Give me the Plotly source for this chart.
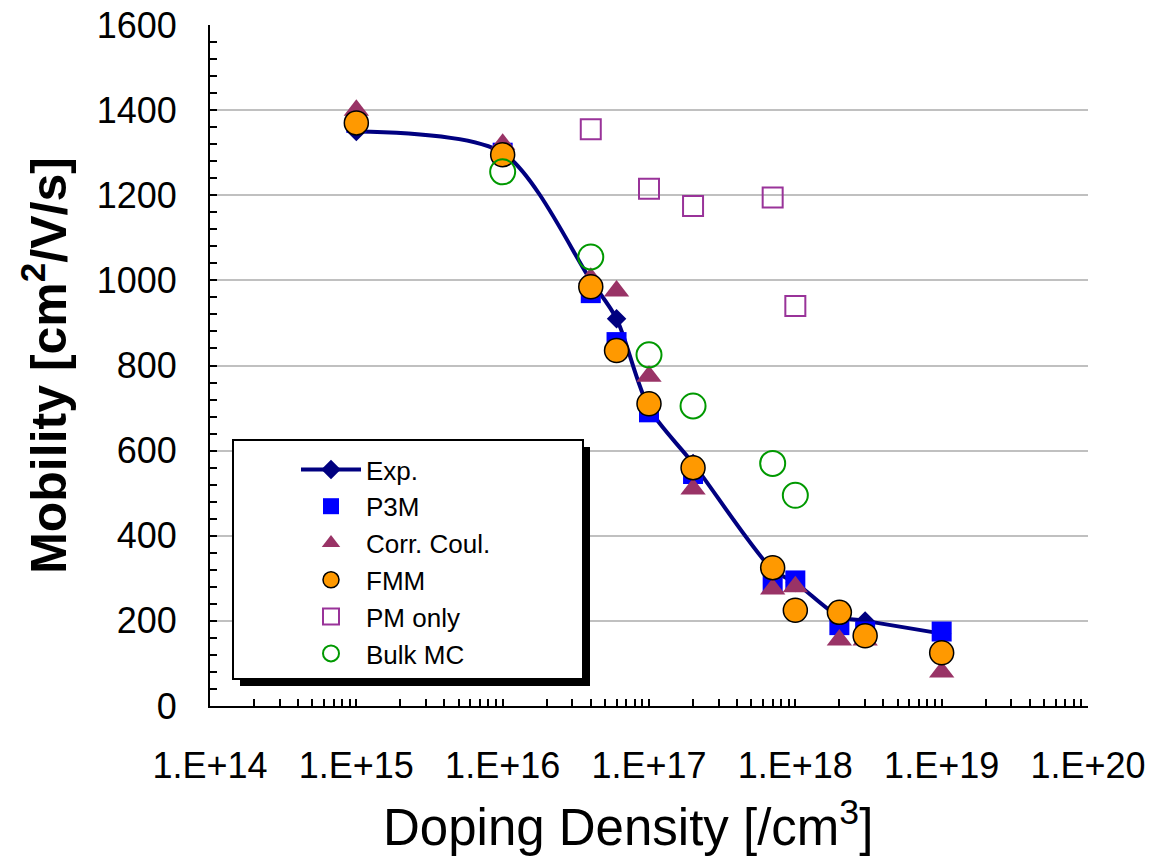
import plotly.graph_objects as go

# Data
exp_x = [1e15, 1e16, 4e16, 6e16, 1e17, 2e17, 7e17, 1e18, 2e18, 3e18, 1e19]
exp_y = [1350, 1300, 1000, 910, 700, 570, 320, 290, 210, 200, 170]

p3m_x = [1e15, 1e16, 4e16, 6e16, 1e17, 2e17, 7e17, 1e18, 2e18, 3e18, 1e19]
p3m_y = [1370, 1300, 970, 855, 690, 545, 290, 295, 190, 175, 175]

cc_x = [1e15, 1e16, 4e16, 6e16, 1e17, 2e17, 7e17, 1e18, 2e18, 3e18, 1e19]
cc_y = [1400, 1320, 1005, 975, 775, 510, 275, 280, 155, 155, 80]

fmm_x = [1e15, 1e16, 4e16, 6e16, 1e17, 2e17, 7e17, 1e18, 2e18, 3e18, 1e19]
fmm_y = [1370, 1295, 985, 835, 710, 560, 325, 225, 220, 165, 125]

pm_x = [4e16, 1e17, 2e17, 7e17, 1e18]
pm_y = [1355, 1215, 1175, 1195, 940]

bulk_x = [1e16, 4e16, 1e17, 2e17, 7e17, 1e18]
bulk_y = [1255, 1055, 825, 705, 570, 495]

xtick_vals = [1e14, 1e15, 1e16, 1e17, 1e18, 1e19, 1e20]
xtick_text = ["1.E+14", "1.E+15", "1.E+16", "1.E+17", "1.E+18", "1.E+19", "1.E+20"]
ytick_vals = [0, 200, 400, 600, 800, 1000, 1200, 1400, 1600]

x_title = "Doping Density [/cm<sup>3</sup>]"
y_title = "<b>Mobility [cm<sup>2</sup>/V/s]</b>"

FONT = "Liberation Sans, Arial, sans-serif"

fig = go.Figure()
fig.add_trace(go.Scatter(x=exp_x, y=exp_y, name="Exp.", mode="lines+markers",
                         line=dict(color="#000080", width=4, shape="spline", smoothing=0.8),
                         marker=dict(symbol="diamond", size=15, color="#000080")))
fig.add_trace(go.Scatter(x=p3m_x, y=p3m_y, name="P3M", mode="markers",
                         marker=dict(symbol="square", size=20, color="#0000FF")))
fig.add_trace(go.Scatter(x=cc_x, y=cc_y, name="Corr. Coul.", mode="markers",
                         marker=dict(symbol="triangle-up", size=22, color="#993366")))
fig.add_trace(go.Scatter(x=fmm_x, y=fmm_y, name="FMM", mode="markers",
                         marker=dict(symbol="circle", size=24, color="#FF9900",
                                     line=dict(color="black", width=1.5))))
fig.add_trace(go.Scatter(x=pm_x, y=pm_y, name="PM only", mode="markers",
                         marker=dict(symbol="square-open", size=20, color="#993399",
                                     line=dict(width=2))))
fig.add_trace(go.Scatter(x=bulk_x, y=bulk_y, name="Bulk MC", mode="markers",
                         marker=dict(symbol="circle-open", size=25, color="#009900",
                                     line=dict(width=2))))

def px2paper(px, py):
    return (px - 210) / 878, (706 - py) / 681

sx0, sy0 = px2paper(240, 686)
sx1, sy1 = px2paper(590, 447)
bx0, by0 = px2paper(233, 679)
bx1, by1 = px2paper(583, 440)

shapes = [
    dict(type="rect", xref="paper", yref="paper", x0=sx0, y0=sy0, x1=sx1, y1=sy1,
         fillcolor="black", line=dict(color="black", width=0), layer="above"),
    dict(type="rect", xref="paper", yref="paper", x0=bx0, y0=by0, x1=bx1, y1=by1,
         fillcolor="white", line=dict(color="black", width=2), layer="above"),
]

lx, ly = px2paper(296, 446)
tx, ty = px2paper(628, 824)

fig.update_layout(
    width=1159, height=863,
    margin=dict(l=210, r=71, t=25, b=157),
    paper_bgcolor="white", plot_bgcolor="white",
    font=dict(family=FONT, color="black"),
    shapes=shapes,
    annotations=[dict(text=x_title, xref="paper", yref="paper", x=tx, y=ty,
                      xanchor="center", yanchor="middle", showarrow=False,
                      font=dict(size=51, family=FONT, color="black"))],
    showlegend=True,
    legend=dict(x=lx, y=ly, xanchor="left", yanchor="top",
                bgcolor="rgba(0,0,0,0)", borderwidth=0,
                font=dict(size=26, family=FONT),
                itemwidth=60),
    xaxis=dict(type="log", range=[14, 20], tickvals=xtick_vals, ticktext=xtick_text,
               automargin=False,
               showline=True, linecolor="black", linewidth=2, showgrid=False,
               ticks="inside", ticklen=7, tickcolor="black", tickwidth=2,
               ticklabelstandoff=27,
               tickfont=dict(size=36, family=FONT),
               minor=dict(ticks="inside", ticklen=7, tickwidth=2, dtick="D1",
                          tickcolor="black", showgrid=False),
               zeroline=False),
    yaxis=dict(range=[0, 1600], tickvals=ytick_vals,
               automargin=False,
               showline=True, linecolor="black", linewidth=2,
               showgrid=True, gridcolor="#C0C0C0", gridwidth=2,
               ticks="inside", ticklen=7, tickcolor="black", tickwidth=2,
               ticklabelstandoff=24,
               tickfont=dict(size=36),
               minor=dict(ticks="inside", ticklen=7, tickwidth=2, dtick=40,
                          tickcolor="black", showgrid=False),
               title=dict(text=y_title, font=dict(size=50), standoff=14),
               zeroline=False),
)

fig.write_html("out.html")
